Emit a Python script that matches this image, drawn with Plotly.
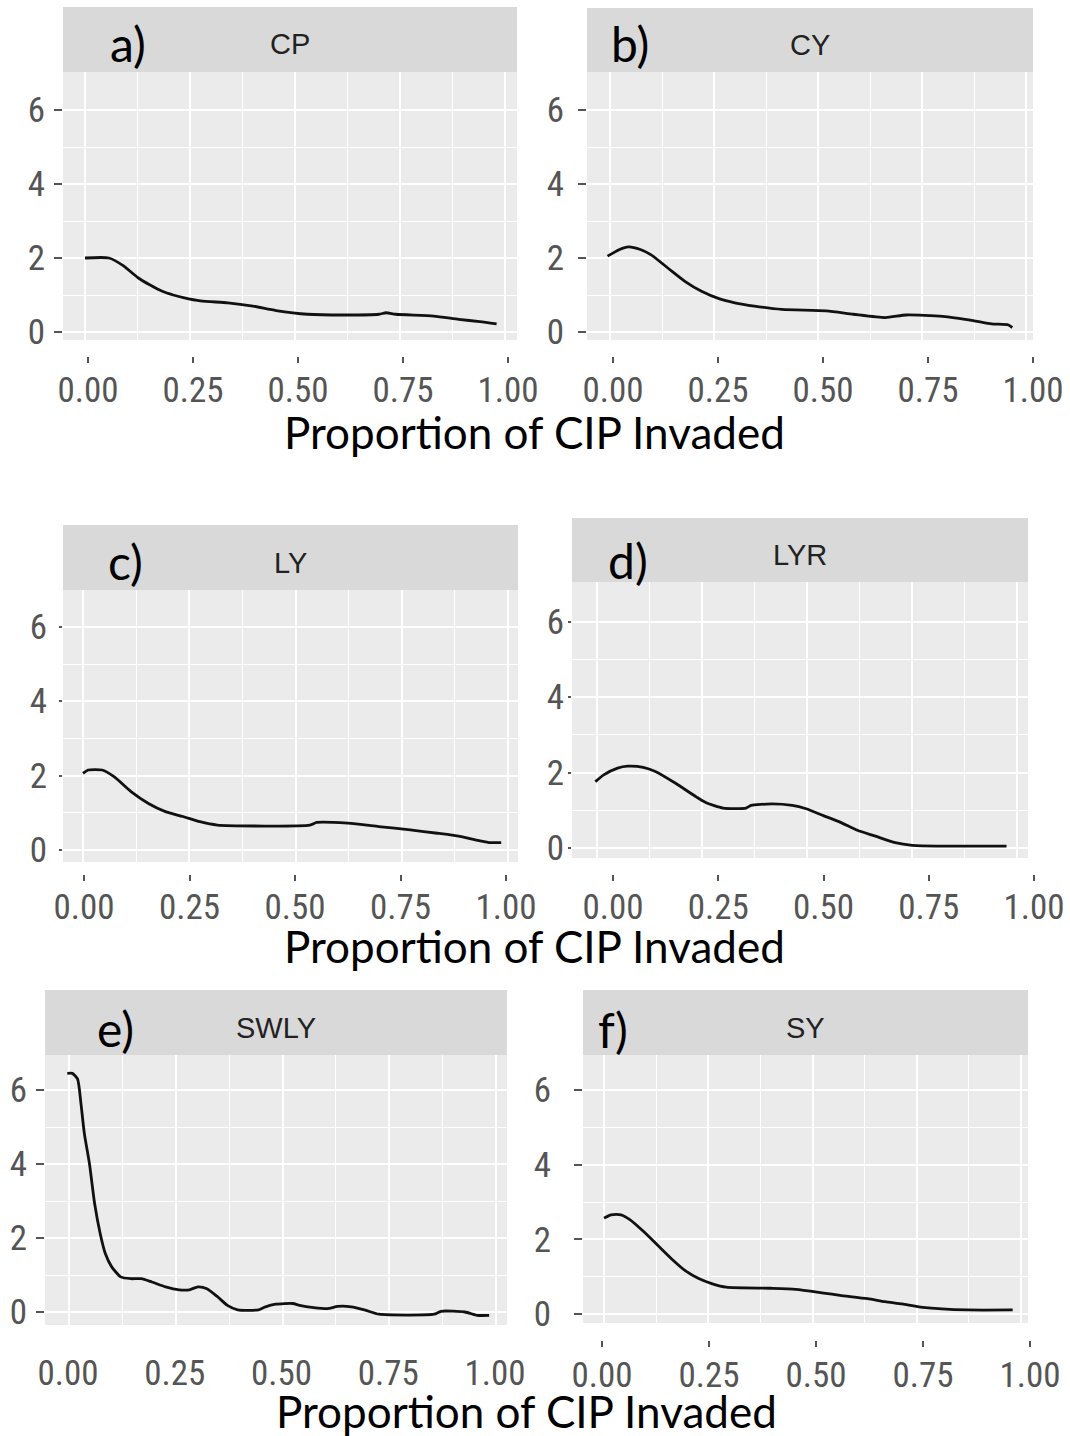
import plotly.graph_objects as go

W, H = 1070, 1436

# ---------------- data ----------------
panel_names = ["CP", "CY", "LY", "LYR", "SWLY", "SY"]
panel_tags = ["a)", "b)", "c)", "d)", "e)", "f)"]
axis_title = "Proportion of CIP Invaded"

x_tick_vals = [0, 0.25, 0.5, 0.75, 1.0]
x_tick_text = ["0.00", "0.25", "0.50", "0.75", "1.00"]
x_minor_vals = [0.125, 0.375, 0.625, 0.875]
y_tick_vals = [0, 2, 4, 6]
y_tick_text = ["0", "2", "4", "6"]
y_minor_vals = [1, 3, 5]

cp_x = [0.0, 0.057, 0.09, 0.127, 0.155, 0.184, 0.21, 0.234, 0.275, 0.34, 0.40,
        0.455, 0.53, 0.62, 0.70, 0.717, 0.74, 0.83, 0.89, 0.94, 0.98]
cp_y = [2.0, 2.0, 1.8, 1.46, 1.27, 1.1, 1.0, 0.93, 0.84, 0.79, 0.70,
        0.58, 0.48, 0.46, 0.48, 0.52, 0.48, 0.43, 0.34, 0.28, 0.22]

cy_x = [-0.006, 0.023, 0.044, 0.073, 0.098, 0.139, 0.18, 0.22, 0.262, 0.30, 0.347,
        0.413, 0.52, 0.585, 0.662, 0.712, 0.80, 0.876, 0.917, 0.958, 0.967]
cy_y = [2.05, 2.23, 2.30, 2.23, 2.09, 1.73, 1.37, 1.10, 0.90, 0.79, 0.70,
        0.61, 0.57, 0.48, 0.39, 0.46, 0.42, 0.30, 0.22, 0.19, 0.12]

ly_x = [0.0, 0.012, 0.045, 0.073, 0.113, 0.154, 0.194, 0.235, 0.275, 0.316, 0.534,
        0.55, 0.623, 0.696, 0.77, 0.834, 0.89, 0.923, 0.955, 0.984]
ly_y = [2.06, 2.15, 2.15, 1.97, 1.57, 1.25, 1.03, 0.90, 0.76, 0.67, 0.67,
        0.74, 0.72, 0.63, 0.54, 0.45, 0.36, 0.27, 0.20, 0.20]

lyr_x = [-0.004, 0.016, 0.049, 0.073, 0.11, 0.139, 0.188, 0.237, 0.26, 0.30, 0.355,
         0.367, 0.416, 0.465, 0.498, 0.539, 0.58, 0.62, 0.661, 0.71, 0.751, 0.824, 0.975]
lyr_y = [1.76, 1.94, 2.12, 2.17, 2.14, 2.03, 1.71, 1.35, 1.20, 1.06, 1.06,
         1.13, 1.17, 1.13, 1.04, 0.86, 0.68, 0.47, 0.32, 0.14, 0.07, 0.05, 0.05]

swly_x = [-0.004, 0.008, 0.02, 0.028, 0.036, 0.048, 0.06, 0.073, 0.085, 0.10, 0.121,
          0.145, 0.169, 0.194, 0.226, 0.258, 0.282, 0.302, 0.323, 0.347, 0.371, 0.395,
          0.444, 0.46, 0.484, 0.524, 0.54, 0.573, 0.605, 0.629, 0.661, 0.694, 0.726,
          0.855, 0.871, 0.927, 0.956, 0.984]
swly_y = [6.45, 6.45, 6.30, 5.63, 4.82, 4.0, 2.93, 2.12, 1.58, 1.22, 0.95,
          0.90, 0.90, 0.81, 0.68, 0.60, 0.60, 0.68, 0.63, 0.42, 0.18, 0.06,
          0.06, 0.14, 0.21, 0.23, 0.18, 0.12, 0.09, 0.15, 0.14, 0.05, -0.06,
          -0.06, 0.02, 0.0, -0.09, -0.09]

sy_x = [0.0, 0.017, 0.041, 0.062, 0.095, 0.128, 0.161, 0.194, 0.227, 0.26, 0.293,
        0.40, 0.46, 0.527, 0.566, 0.632, 0.674, 0.715, 0.764, 0.872, 0.98]
sy_y = [2.57, 2.66, 2.66, 2.53, 2.21, 1.85, 1.49, 1.17, 0.95, 0.81, 0.72,
        0.69, 0.66, 0.56, 0.50, 0.41, 0.33, 0.27, 0.18, 0.11, 0.11]

series_x = [cp_x, cy_x, ly_x, lyr_x, swly_x, sy_x]
series_y = [cp_y, cy_y, ly_y, lyr_y, swly_y, sy_y]

# ---------------- page geometry (pixels) ----------------
# l/r/t/b: grey panel box; st: strip top; g0/g1: px of x = 0 and x = 1 grid;
# z/u: px of y = 0 and px per y unit; k0/k1: px of the 0.00 and 1.00 labels;
# kt: top of the x tick row; xtl/xsd: x tick length and label standoff;
# ytl/ysd: y tick length and label standoff
panels = [
    dict(l=63, r=517, t=72, b=340, st=7, g0=85, g1=505, z=332, u=37.0,
         k0=88, k1=508, kt=356, xtl=6, xsd=-3, ytl=8, ysd=2),
    dict(l=587, r=1033, t=72, b=340, st=8, g0=610, g1=1026, z=332, u=37.0,
         k0=613, k1=1033, kt=356, xtl=6, xsd=-3, ytl=8, ysd=7),
    dict(l=63, r=518, t=590, b=862, st=525, g0=83, g1=508, z=850, u=37.2,
         k0=84, k1=506, kt=874, xtl=6, xsd=-4, ytl=3, ysd=5),
    dict(l=572, r=1028, t=582, b=858, st=518, g0=597, g1=1017, z=848, u=37.7,
         k0=613, k1=1034, kt=874, xtl=6, xsd=-4, ytl=3, ysd=-3),
    dict(l=45, r=507, t=1055, b=1325, st=990, g0=69, g1=496, z=1312, u=37.0,
         k0=68, k1=495, kt=1340, xtl=0, xsd=9, ytl=8, ysd=2),
    dict(l=583, r=1028, t=1055, b=1323, st=990, g0=604, g1=1021, z=1314, u=37.3,
         k0=602, k1=1030, kt=1340, xtl=6, xsd=-2, ytl=8, ysd=16),
]
tag_pos = [(128, 44), (630, 44), (125, 561), (628, 560), (115, 1028), (613, 1029)]
title_pos = [(534, 432), (534, 946), (526, 1411)]

PANEL_BG = "#EBEBEB"
STRIP_BG = "#D9D9D9"
TICK_FONT = dict(family="Liberation Sans Narrow, Arial Narrow, Roboto Condensed, Liberation Sans, Arial",
                 size=35, color="#555555")
STRIP_FONT = dict(family="Liberation Sans, Arial", size=29, color="#222222")
TAG_FONT = dict(family="Lato, Carlito, Calibri, Open Sans", size=48, color="black")
TITLE_FONT = dict(family="Lato, Carlito, Calibri, Open Sans", size=44, color="black")


def px_x(v):
    return v / W


def px_y(v):
    return 1 - v / H


def ax_id(letter, n):
    return letter if n == 1 else f"{letter}{n}"


fig = go.Figure()
layout = dict(
    width=W, height=H, autosize=False,
    margin=dict(l=0, r=0, t=0, b=0, autoexpand=False),
    paper_bgcolor="white", plot_bgcolor="rgba(0,0,0,0)",
    showlegend=False,
)
shapes, annotations = [], []

for i, p in enumerate(panels):
    n = i + 1          # grid axes
    m = i + 7          # tick-label axes
    xn, yn = ax_id("x", n), ax_id("y", n)
    xm, ym = ax_id("x", m), ax_id("y", m)
    xr = [(p["l"] - p["g0"]) / (p["g1"] - p["g0"]), (p["r"] - p["g0"]) / (p["g1"] - p["g0"])]
    yr = [(p["z"] - p["b"]) / p["u"], (p["z"] - p["t"]) / p["u"]]
    xdom = [px_x(p["l"]), px_x(p["r"])]
    ydom = [px_y(p["b"]), px_y(p["t"])]

    fig.add_trace(go.Scatter(
        x=series_x[i], y=series_y[i], mode="lines",
        line=dict(color="#111111", width=2.8, shape="spline", smoothing=0.6),
        xaxis=xn, yaxis=yn, hoverinfo="skip", showlegend=False,
    ))

    layout[xn.replace("x", "xaxis")] = dict(
        domain=xdom, range=xr, anchor=yn, automargin=False,
        tickvals=x_tick_vals, showticklabels=False, ticks="",
        showgrid=True, gridcolor="white", gridwidth=2,
        minor=dict(tickvals=x_minor_vals, showgrid=True, gridcolor="white", gridwidth=1.2, ticks=""),
        zeroline=False, showline=False, fixedrange=True,
    )
    layout[yn.replace("y", "yaxis")] = dict(
        domain=ydom, range=yr, anchor=xn, automargin=False,
        tickvals=y_tick_vals, ticktext=y_tick_text, tickfont=TICK_FONT,
        ticks="outside", ticklen=p["ytl"], tickwidth=2, tickcolor="#555555",
        ticklabelstandoff=p["ysd"],
        showgrid=True, gridcolor="white", gridwidth=2,
        minor=dict(tickvals=y_minor_vals, showgrid=True, gridcolor="white", gridwidth=1.2, ticks=""),
        zeroline=False, showline=False, fixedrange=True,
    )

    # tick-label row for the x axis, drawn on its own axis below the panel
    kd = [px_x(p["k0"] + xr[0] * (p["k1"] - p["k0"])), px_x(p["k0"] + xr[1] * (p["k1"] - p["k0"]))]
    layout[xm.replace("x", "xaxis")] = dict(
        domain=kd, range=xr, anchor="free", position=px_y(p["kt"]), automargin=False,
        tickvals=x_tick_vals, ticktext=x_tick_text, tickfont=TICK_FONT,
        ticks="outside" if p["xtl"] > 0 else "", ticklen=max(p["xtl"], 1), tickwidth=2,
        tickcolor="#555555", ticklabelstandoff=p["xsd"],
        showgrid=False, zeroline=False, showline=False, fixedrange=True,
    )
    layout[ym.replace("y", "yaxis")] = dict(domain=ydom, range=[0, 1], anchor=xm, automargin=False,
                                            visible=False, fixedrange=True)
    fig.add_trace(go.Scatter(
        x=x_tick_vals, y=[0.5] * len(x_tick_vals), mode="markers", marker=dict(opacity=0),
        xaxis=xm, yaxis=ym, hoverinfo="skip", showlegend=False,
    ))

    # panel background
    shapes.append(dict(type="rect", xref=f"{xn} domain", yref=f"{yn} domain",
                       x0=0, x1=1, y0=0, y1=1, fillcolor=PANEL_BG, line=dict(width=0), layer="below"))
    # facet strip
    shapes.append(dict(type="rect", xref="paper", yref="paper",
                       x0=px_x(p["l"]), x1=px_x(p["r"]), y0=px_y(p["t"]), y1=px_y(p["st"]),
                       fillcolor=STRIP_BG, line=dict(width=0), layer="below"))
    annotations.append(dict(text=panel_names[i], xref="paper", yref="paper",
                            x=px_x((p["l"] + p["r"]) / 2), y=px_y((p["st"] + p["t"]) / 2 + 5),
                            xanchor="center", yanchor="middle", showarrow=False, font=STRIP_FONT))
    tx, ty = tag_pos[i]
    annotations.append(dict(text=panel_tags[i], xref="paper", yref="paper",
                            x=px_x(tx), y=px_y(ty), xanchor="center", yanchor="middle",
                            showarrow=False, font=TAG_FONT))

for tx, ty in title_pos:
    annotations.append(dict(text=axis_title, xref="paper", yref="paper",
                            x=px_x(tx), y=px_y(ty), xanchor="center", yanchor="middle",
                            showarrow=False, font=TITLE_FONT))

layout["shapes"] = shapes
layout["annotations"] = annotations
fig.update_layout(**layout)

fig.write_html("out.html")
